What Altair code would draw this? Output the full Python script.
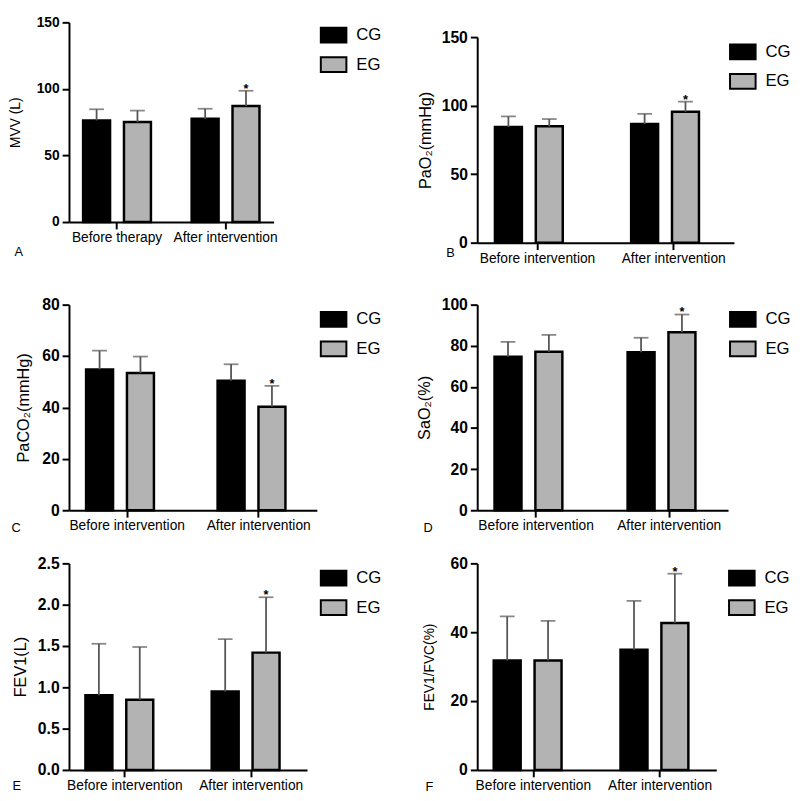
import altair as alt
import pandas as pd

FONT = "Liberation Sans"
GROUPS = ["CG", "EG"]
FILLS = ["#000000", "#b3b3b3"]
ERR_COLOR = "#555555"

# ---- Panel A: MVV (L)
A_cats = ["Before therapy", "After intervention"]
A_cg = [76.3, 77.5]
A_cg_top = [84.7, 85.1]
A_eg = [75.1, 87.1]
A_eg_top = [83.7, 98.6]
A_ticks = [0, 50, 100, 150]

# ---- Panel B: PaO2
B_cats = ["Before intervention", "After intervention"]
B_cg = [84.4, 86.6]
B_cg_top = [92.1, 94.0]
B_eg = [84.9, 95.5]
B_eg_top = [90.2, 102.9]
B_ticks = [0, 50, 100, 150]

# ---- Panel C: PaCO2
C_cats = ["Before intervention", "After intervention"]
C_cg = [54.8, 50.4]
C_cg_top = [62.1, 56.8]
C_eg = [53.4, 40.3]
C_eg_top = [59.8, 48.4]
C_ticks = [0, 20, 40, 60, 80]

# ---- Panel D: SaO2
D_cats = ["Before intervention", "After intervention"]
D_cg = [74.7, 76.8]
D_cg_top = [81.9, 83.9]
D_eg = [77.1, 86.6]
D_eg_top = [85.3, 95.2]
D_ticks = [0, 20, 40, 60, 80, 100]

# ---- Panel E: FEV1
E_cats = ["Before intervention", "After intervention"]
E_cg = [0.905, 0.949]
E_cg_top = [1.527, 1.583]
E_eg = [0.849, 1.42]
E_eg_top = [1.488, 2.09]
E_ticks = [0.0, 0.5, 1.0, 1.5, 2.0, 2.5]

# ---- Panel F: FEV1/FVC
F_cats = ["Before intervention", "After intervention"]
F_cg = [31.8, 34.9]
F_cg_top = [44.6, 49.1]
F_eg = [31.8, 42.7]
F_eg_top = [43.3, 57.0]
F_ticks = [0, 20, 40, 60]


def panel(cats, cg, cg_top, eg, eg_top, ticks, fmt, ytitle, letter,
          width, height, top, ytitle_x, ytitle_fs, tick_fs,
          letter_x, letter_y, leg_x, leg_y):
    rows = []
    for i, c in enumerate(cats):
        for g, m, t in (("CG", cg[i], cg_top[i]), ("EG", eg[i], eg_top[i])):
            rows.append({"cat": c, "group": g, "mean": m, "upper": t,
                         "star": "*" if (g == "EG" and i == 1) else ""})
    df = pd.DataFrame(rows)
    ymax = ticks[-1]

    x = alt.X("cat:N", sort=cats,
              scale=alt.Scale(paddingInner=0.375, paddingOuter=0.13),
              axis=alt.Axis(title=letter, labelAngle=0, labelFontSize=14,
                            labelFont=FONT, labelColor="black", labelPadding=2,
                            tickSize=7, tickWidth=2, tickColor="black",
                            domainWidth=2, domainColor="black",
                            titleX=letter_x, titleY=letter_y, titleAlign="left",
                            titleBaseline="middle", titleFontSize=13,
                            titleFontWeight="normal", titleFont=FONT,
                            titleColor="black"))
    xo = alt.XOffset("group:N", sort=GROUPS,
                     scale=alt.Scale(paddingInner=0.34, paddingOuter=0))
    yscale = alt.Scale(domain=[0, ymax], range=[height, top], nice=False)
    yaxis = alt.Axis(title=ytitle, values=ticks, format=fmt,
                     labelFont=FONT, labelFontWeight="bold", labelFontSize=tick_fs,
                     labelColor="black", labelPadding=3,
                     tickSize=7, tickWidth=2, tickColor="black",
                     domainWidth=2, domainColor="black", grid=False,
                     titleFont=FONT, titleFontWeight="normal", titleFontSize=ytitle_fs,
                     titleColor="black", titleX=ytitle_x, titleY=(height + top) / 2,
                     titleAngle=270, titleAlign="center", titleBaseline="middle")

    base = alt.Chart(df)
    bars = base.mark_bar(stroke="black", strokeWidth=2.5).encode(
        x=x, xOffset=xo,
        y=alt.Y("mean:Q", scale=yscale, axis=yaxis),
        color=alt.Color("group:N", sort=GROUPS,
                        scale=alt.Scale(domain=GROUPS, range=FILLS),
                        legend=alt.Legend(orient="none", legendX=leg_x, legendY=top + leg_y,
                                          title=None,
                                          symbolType="M-1,-0.577H1V0.577H-1Z",
                                          symbolSize=676, symbolStrokeColor="black",
                                          symbolStrokeWidth=2, symbolOpacity=1,
                                          labelFont=FONT, labelFontSize=17,
                                          labelColor="black", labelOffset=9,
                                          rowPadding=4)),
    )
    err = base.mark_rule(color=ERR_COLOR, strokeWidth=1.8).encode(
        x=x, xOffset=xo,
        y=alt.Y("mean:Q", scale=yscale, axis=yaxis),
        y2="upper:Q",
    )
    cap = base.mark_tick(orient="horizontal", size=15, thickness=1.8,
                         color=ERR_COLOR).encode(
        x=x, xOffset=xo,
        y=alt.Y("upper:Q", scale=yscale, axis=yaxis),
    )
    star = base.transform_filter("datum.star == '*'").mark_text(
        text="*", fontSize=13, fontWeight="bold", baseline="alphabetic",
        dy=2, color="black", font=FONT).encode(
        x=x, xOffset=xo,
        y=alt.Y("upper:Q", scale=yscale, axis=yaxis),
    )
    return alt.layer(bars, err, cap, star).properties(width=width, height=height)


pA = panel(A_cats, A_cg, A_cg_top, A_eg, A_eg_top, A_ticks, "d", "MVV (L)", "A",
           208, 203, 0, -54, 14, 14, -56, 30, 255, -1)
pB = panel(B_cats, B_cg, B_cg_top, B_eg, B_eg_top, B_ticks, "d", "PaO₂(mmHg)", "B",
           261, 224, 15, -52, 16.5, 16, -32, 10, 256, 1)
pC = panel(C_cats, C_cg, C_cg_top, C_eg, C_eg_top, C_ticks, "d", "PaCO₂(mmHg)", "C",
           252, 218, 9, -46, 16.5, 16, -59, 18, 255, 1)
pD = panel(D_cats, D_cg, D_cg_top, D_eg, D_eg_top, D_ticks, "d", "SaO₂(%)", "D",
           255, 218, 9, -53, 16.5, 16, -55, 18, 256, 1)
pE = panel(E_cats, E_cg, E_cg_top, E_eg, E_eg_top, E_ticks, ".1f", "FEV1(L)", "E",
           242, 210, 0, -49, 16.5, 16, -58, 16, 255, 1)
pF = panel(F_cats, F_cg, F_cg_top, F_eg, F_eg_top, F_ticks, "d", "FEV1/FVC(%)", "F",
           243, 210, 0, -48, 14, 16, -53, 17, 255, 1)

chart = alt.concat(
    pA, pB, pC, pD, pE, pF,
    columns=2, spacing={"row": 54, "column": 163}, bounds="flush", align="each",
).resolve_scale(color="independent", x="independent", y="independent").resolve_legend(
    color="independent"
).properties(padding=0).configure_view(stroke="transparent")

chart.save("out.html", embed_options={"renderer": "svg", "actions": False})
